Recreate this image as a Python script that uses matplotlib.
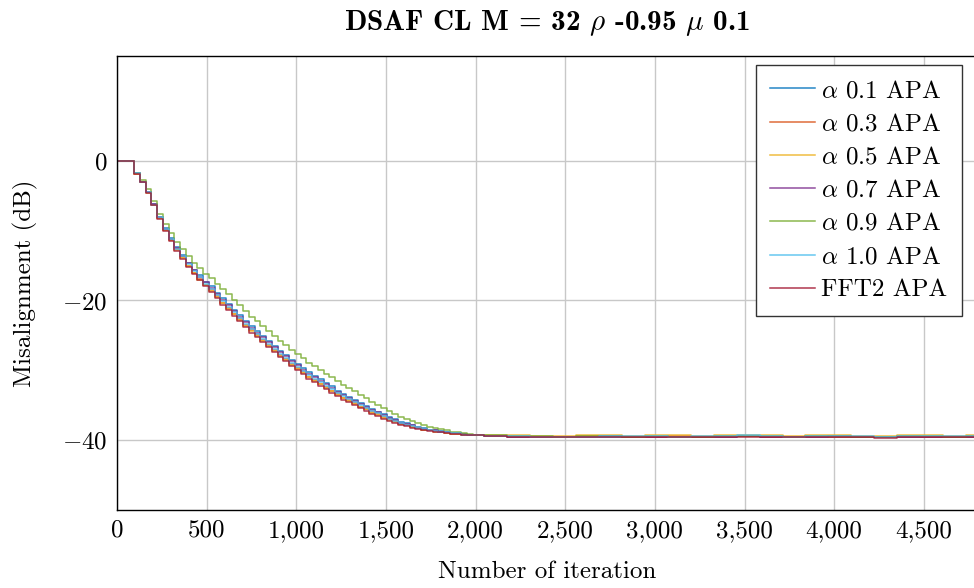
import numpy as np
import matplotlib
matplotlib.use("Agg")
import matplotlib.pyplot as plt
from matplotlib.ticker import FuncFormatter

plt.rcParams["font.family"] = ["cmr10", "DejaVu Serif"]
plt.rcParams["mathtext.fontset"] = "cm"
plt.rcParams["axes.formatter.use_mathtext"] = True

# iteration grid: flat start, 32-sample blocks while converging, coarser on the plateau
iters = np.concatenate(([0], np.arange(96, 2048, 32), np.arange(2048, 4800, 128), [4800]))

labels = [r"$\alpha$ 0.1 APA", r"$\alpha$ 0.3 APA", r"$\alpha$ 0.5 APA", r"$\alpha$ 0.7 APA",
          r"$\alpha$ 0.9 APA", r"$\alpha$ 1.0 APA", "FFT2 APA"]
colors = ["#0072BD", "#D95319", "#EDB120", "#7E2F8E", "#77AC30", "#4DBEEE", "#A2142F"]

a01 = [0.0,
       -1.8, -3.0, -4.4, -6.2, -8.0, -9.6, -11.1, -12.4, -13.5, -14.6, -15.6, -16.4, -17.3, -18.0, -18.9, -19.7,
       -20.5, -21.3, -22.1, -22.9, -23.7, -24.4, -25.1, -25.8, -26.5, -27.2, -27.8, -28.5, -29.1, -29.7, -30.3,
       -30.8, -31.3, -31.8, -32.3, -32.9, -33.4, -33.8, -34.2, -34.7, -35.1, -35.5, -35.9, -36.3, -36.7, -37.0,
       -37.4, -37.6, -37.8, -38.1, -38.3, -38.5, -38.6, -38.7, -38.9, -39.0, -39.0, -39.1, -39.2, -39.3, -39.3,
       -39.4, -39.5, -39.5, -39.6, -39.6, -39.5, -39.6, -39.5, -39.5, -39.6, -39.5, -39.4, -39.5, -39.6, -39.5,
       -39.5, -39.6, -39.6, -39.5, -39.5, -39.6, -39.6]
a03 = [0.0,
       -1.9, -3.1, -4.5, -6.3, -8.2, -9.9, -11.4, -12.7, -13.8, -15.0, -16.0, -16.9, -17.8, -18.5, -19.4, -20.3,
       -21.1, -21.9, -22.7, -23.5, -24.3, -25.0, -25.7, -26.4, -27.1, -27.8, -28.4, -29.1, -29.7, -30.3, -30.9,
       -31.4, -31.9, -32.4, -32.9, -33.4, -33.9, -34.3, -34.7, -35.2, -35.6, -36.0, -36.3, -36.7, -37.0, -37.3,
       -37.7, -37.9, -38.1, -38.3, -38.5, -38.6, -38.7, -38.8, -39.0, -39.1, -39.1, -39.2, -39.2, -39.3, -39.3,
       -39.4, -39.4, -39.5, -39.5, -39.4, -39.4, -39.5, -39.5, -39.4, -39.5, -39.4, -39.4, -39.5, -39.5, -39.4,
       -39.5, -39.5, -39.5, -39.4, -39.5, -39.5, -39.4]
a05 = [0.0,
       -1.9, -3.1, -4.6, -6.3, -8.2, -9.9, -11.4, -12.8, -13.9, -15.1, -16.1, -17.0, -17.8, -18.6, -19.5, -20.4,
       -21.2, -22.0, -22.8, -23.6, -24.4, -25.1, -25.8, -26.5, -27.2, -27.9, -28.5, -29.2, -29.8, -30.4, -31.0,
       -31.5, -32.0, -32.5, -33.0, -33.5, -34.0, -34.4, -34.8, -35.2, -35.6, -36.1, -36.4, -36.8, -37.1, -37.4,
       -37.7, -37.9, -38.1, -38.3, -38.5, -38.6, -38.8, -38.9, -39.0, -39.1, -39.1, -39.2, -39.2, -39.3, -39.3,
       -39.3, -39.3, -39.4, -39.4, -39.3, -39.2, -39.4, -39.3, -39.3, -39.4, -39.3, -39.2, -39.3, -39.4, -39.3,
       -39.3, -39.4, -39.4, -39.3, -39.3, -39.4, -39.2]
a07 = [0.0,
       -1.8, -3.0, -4.5, -6.2, -8.1, -9.7, -11.2, -12.5, -13.6, -14.7, -15.7, -16.6, -17.4, -18.2, -19.1, -19.9,
       -20.7, -21.5, -22.3, -23.1, -23.9, -24.6, -25.3, -26.0, -26.7, -27.4, -28.0, -28.7, -29.3, -29.9, -30.5,
       -31.0, -31.5, -32.0, -32.5, -33.1, -33.6, -34.0, -34.4, -34.8, -35.3, -35.7, -36.0, -36.4, -36.8, -37.1,
       -37.5, -37.7, -37.9, -38.2, -38.4, -38.5, -38.6, -38.8, -38.9, -39.0, -39.0, -39.1, -39.2, -39.3, -39.3,
       -39.4, -39.5, -39.5, -39.5, -39.5, -39.4, -39.5, -39.5, -39.6, -39.5, -39.5, -39.4, -39.5, -39.5, -39.5,
       -39.4, -39.5, -39.6, -39.5, -39.5, -39.5, -39.5]
a09 = [0.0,
       -1.7, -2.8, -4.1, -5.8, -7.6, -9.1, -10.3, -11.6, -12.6, -13.7, -14.6, -15.4, -16.2, -16.8, -17.6, -18.4,
       -19.1, -19.9, -20.7, -21.5, -22.3, -23.0, -23.7, -24.4, -25.1, -25.8, -26.4, -27.1, -27.7, -28.3, -28.9,
       -29.4, -29.9, -30.5, -31.0, -31.6, -32.1, -32.6, -33.0, -33.5, -34.0, -34.5, -34.9, -35.4, -35.8, -36.2,
       -36.7, -37.0, -37.3, -37.6, -37.9, -38.1, -38.3, -38.4, -38.6, -38.8, -38.9, -39.0, -39.1, -39.2, -39.3,
       -39.3, -39.4, -39.4, -39.5, -39.4, -39.4, -39.5, -39.4, -39.5, -39.5, -39.4, -39.4, -39.4, -39.5, -39.4,
       -39.4, -39.5, -39.5, -39.4, -39.4, -39.5, -39.4]
a10 = [0.0,
       -1.8, -3.0, -4.5, -6.3, -8.1, -9.8, -11.2, -12.6, -13.7, -14.8, -15.8, -16.7, -17.6, -18.3, -19.2, -20.1,
       -20.9, -21.7, -22.5, -23.3, -24.1, -24.8, -25.5, -26.2, -26.9, -27.6, -28.2, -28.9, -29.5, -30.1, -30.7,
       -31.2, -31.7, -32.2, -32.7, -33.2, -33.7, -34.1, -34.5, -35.0, -35.4, -35.8, -36.1, -36.5, -36.9, -37.2,
       -37.5, -37.8, -38.0, -38.2, -38.4, -38.5, -38.7, -38.8, -38.9, -39.0, -39.0, -39.2, -39.2, -39.3, -39.3,
       -39.4, -39.4, -39.5, -39.5, -39.5, -39.4, -39.4, -39.4, -39.5, -39.4, -39.4, -39.3, -39.4, -39.5, -39.4,
       -39.4, -39.4, -39.5, -39.4, -39.4, -39.4, -39.4]
fft2 = [0.0,
        -1.9, -3.1, -4.6, -6.4, -8.3, -10.0, -11.5, -12.9, -14.0, -15.2, -16.2, -17.1, -18.0, -18.8, -19.7, -20.6,
        -21.4, -22.2, -23.0, -23.8, -24.6, -25.3, -26.0, -26.7, -27.4, -28.1, -28.7, -29.4, -30.0, -30.6, -31.2,
        -31.7, -32.2, -32.7, -33.2, -33.7, -34.2, -34.6, -35.0, -35.4, -35.8, -36.2, -36.5, -36.9, -37.2, -37.5,
        -37.8, -38.0, -38.2, -38.4, -38.6, -38.7, -38.8, -38.9, -39.0, -39.1, -39.1, -39.2, -39.2, -39.3, -39.3,
        -39.4, -39.5, -39.6, -39.5, -39.5, -39.5, -39.6, -39.6, -39.5, -39.6, -39.5, -39.5, -39.6, -39.6, -39.6,
        -39.5, -39.6, -39.7, -39.6, -39.5, -39.6, -39.5]

series = [a01, a03, a05, a07, a09, a10, fft2]


def main() -> None:
    fig = plt.figure(figsize=(9.74, 5.88), dpi=100)
    ax = fig.add_axes([117 / 974, 78 / 588, 860.6 / 974, 454 / 588])

    for vals, lab, col in zip(series, labels, colors):
        y = list(vals) + [vals[-1]]
        ax.plot(iters, y, drawstyle="steps-post", color=col, lw=1.1, alpha=0.85, label=lab)

    ax.set_xlim(0, 4800)
    ax.set_ylim(-50, 15)
    ax.set_xticks(np.arange(0, 5000, 500))
    ax.set_yticks([-40, -20, 0])
    ax.xaxis.set_major_formatter(FuncFormatter(lambda v, p: f"{v:,.0f}"))
    ax.yaxis.set_major_formatter(FuncFormatter(lambda v, p: f"${v:.0f}$"))
    ax.tick_params(axis="both", labelsize=18, length=0, pad=7)
    ax.grid(True, color="#c8c8c8", lw=1.0)
    ax.set_axisbelow(True)
    for s in ax.spines.values():
        s.set_linewidth(1.0)

    ax.set_xlabel("Number of iteration", fontsize=18, labelpad=14)
    ax.set_ylabel("Misalignment (dB)", fontsize=18, labelpad=17)
    ax.set_title(r"DSAF CL M = 32 $\rho$ -0.95 $\mu$ 0.1", fontsize=21,
                 family=["cmb10", "DejaVu Serif"], pad=19)

    leg = ax.legend(loc="upper right", bbox_to_anchor=(962 / 974, 1 - 65 / 588),
                    bbox_transform=fig.transFigure, fontsize=18, frameon=True, fancybox=False,
                    edgecolor="#333333", framealpha=1.0, handlelength=1.8, handletextpad=0.24,
                    labelspacing=0.43, borderpad=0.58, borderaxespad=0)
    leg.get_frame().set_linewidth(1.0)
    for h in leg.get_lines():
        h.set_linewidth(1.1)

    fig.savefig("out.png", dpi=100)


if __name__ == "__main__":
    main()
